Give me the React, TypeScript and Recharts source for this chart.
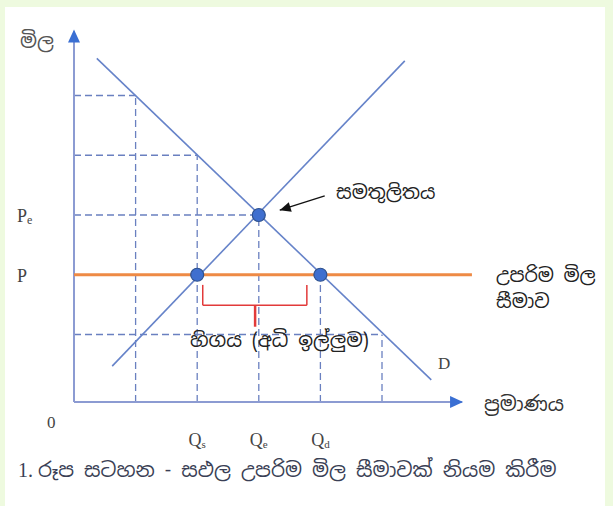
import React from 'react';
import { ComposedChart, Line, Scatter, XAxis, YAxis, ReferenceLine, ReferenceDot } from 'recharts';

// ---- data ----
const gridQuantities = [1, 2, 3, 4, 5];
const gridPrices = [5.13, 4.13, 3.13, 2.13, 1.13];
const demandPoints = [
  { q: 0.37, p: 5.75 },
  { q: 5.8, p: 0.37 },
];
const supplyPoints = [
  { q: 0.62, p: 0.6 },
  { q: 5.37, p: 5.71 },
];
const ceilingPrice = 2.13;
const equilibriumPrice = 3.13;
const ceilingEndQ = 6.46;
const keyPoints = [
  { q: 2, p: 2.13 },
  { q: 3, p: 3.13 },
  { q: 4, p: 2.13 },
];
const quantityTicks = [2, 3, 4];
const quantitySubs = ['s', 'e', 'd'];
const priceTicks = [equilibriumPrice, ceilingPrice];
const priceTickSubs = ['e', ''];
const braceQ = [2.09, 3.78, 2.94];
const braceP = [1.96, 1.62, 1.26];
const arrowFrom = { q: 4.07, p: 3.45 };
const arrowTo = { q: 3.34, p: 3.21 };

const X_MAX = 6.6;
const Y_MAX = 6.2;
const AXIS_X_END = 6.3;

const SINHALA = "'Noto Sans Sinhala', 'Noto Serif Sinhala', 'Iskoola Pota', 'Noto Sans', sans-serif";
const SERIF = "'Liberation Serif', 'DejaVu Serif', serif";

const LINE_BLUE = '#6683c9';
const DASH_BLUE = '#6a80c0';
const AXIS_BLUE = '#8c9bd2';
const ARROW_BLUE = '#3a6fd3';

const UpArrow = (props: any) => {
  const { cx, cy } = props;
  return <polygon points={`${cx},${cy - 2} ${cx - 6},${cy + 11} ${cx + 6},${cy + 11}`} fill={ARROW_BLUE} />;
};
const RightArrow = (props: any) => {
  const { cx, cy } = props;
  return <polygon points={`${cx + 1},${cy} ${cx - 12},${cy - 6} ${cx - 12},${cy + 6}`} fill={ARROW_BLUE} />;
};
const BlackHead = (props: any) => {
  const { cx, cy } = props;
  const ang = Math.atan2(14, -45);
  const L = 11;
  const Wd = 5;
  const bx = cx - L * Math.cos(ang);
  const by = cy - L * Math.sin(ang);
  const nx = -Math.sin(ang) * Wd;
  const ny = Math.cos(ang) * Wd;
  return <polygon points={`${cx},${cy} ${bx + nx},${by + ny} ${bx - nx},${by - ny}`} fill="#111" />;
};
const KeyDot = (props: any) => {
  const { cx, cy } = props;
  return <circle cx={cx} cy={cy} r={6.5} fill="#3f6fcf" stroke="#2f528f" strokeWidth={1.2} />;
};

const makeQLabel = (sub: string) => (props: any) => {
  const { cx, cy } = props;
  return (
    <text x={cx} y={cy + 44} textAnchor="middle" fontFamily={SERIF} fontSize={18} fill="#444">
      Q<tspan fontSize={11} dy={2}>{sub}</tspan>
    </text>
  );
};
const makePLabel = (sub: string) => (props: any) => {
  const { cy } = props;
  return (
    <text x={17} y={cy + 7} textAnchor="start" fontFamily={SERIF} fontSize={18} fill="#444">
      P{sub ? <tspan fontSize={12} dy={2}>{sub}</tspan> : null}
    </text>
  );
};

export default function App() {
  const chartW = 613;
  const chartH = 506;
  const margin = { left: 74, top: 31.55, bottom: 104, right: 613 - (74 + X_MAX * 61.6) };
  return (
    <div style={{ position: 'absolute', left: 0, top: 0, width: 613, height: 506, background: '#eefadf', overflow: 'hidden' }}>
      <div style={{ position: 'absolute', left: 5, top: 7, width: 600, height: 499, background: '#ffffff' }} />
      <div style={{ position: 'absolute', left: 0, top: 0 }}>
        <ComposedChart width={chartW} height={chartH} margin={margin}>
          <XAxis type="number" dataKey="q" domain={[0, X_MAX]} hide allowDataOverflow />
          <YAxis type="number" dataKey="p" domain={[0, Y_MAX]} hide allowDataOverflow />
          {gridQuantities.map((q, i) => (
            <ReferenceLine
              key={'h' + i}
              segment={[{ x: 0, y: gridPrices[i] }, { x: q, y: gridPrices[i] }]}
              stroke={DASH_BLUE}
              strokeWidth={1.3}
              strokeDasharray="7 4"
              ifOverflow="visible"
            />
          ))}
          {gridQuantities.map((q, i) => (
            <ReferenceLine
              key={'v' + i}
              segment={[{ x: q, y: 0 }, { x: q, y: gridPrices[i] }]}
              stroke={DASH_BLUE}
              strokeWidth={1.3}
              strokeDasharray="7 4"
              ifOverflow="visible"
            />
          ))}
          <ReferenceLine segment={[{ x: 0, y: 0 }, { x: 0, y: Y_MAX }]} stroke={AXIS_BLUE} strokeWidth={2} ifOverflow="visible" />
          <ReferenceLine segment={[{ x: 0, y: 0 }, { x: AXIS_X_END, y: 0 }]} stroke={AXIS_BLUE} strokeWidth={2} ifOverflow="visible" />
          <ReferenceDot x={0} y={Y_MAX} r={0} shape={<UpArrow />} ifOverflow="visible" />
          <ReferenceDot x={AXIS_X_END} y={0} r={0} shape={<RightArrow />} ifOverflow="visible" />
          {quantityTicks.map((q, i) => (
            <ReferenceDot key={'qt' + i} x={q} y={0} r={0} shape={makeQLabel(quantitySubs[i])} ifOverflow="visible" />
          ))}
          {priceTicks.map((p, i) => (
            <ReferenceDot key={'pt' + i} x={0} y={p} r={0} shape={makePLabel(priceTickSubs[i])} ifOverflow="visible" />
          ))}
          <Line data={demandPoints} dataKey="p" stroke={LINE_BLUE} strokeWidth={1.6} dot={false} isAnimationActive={false} />
          <Line data={supplyPoints} dataKey="p" stroke={LINE_BLUE} strokeWidth={1.6} dot={false} isAnimationActive={false} />
          <ReferenceLine
            segment={[{ x: 0, y: ceilingPrice }, { x: ceilingEndQ, y: ceilingPrice }]}
            stroke="#ee8a45"
            strokeWidth={3}
            ifOverflow="visible"
          />
          <ReferenceLine segment={[{ x: braceQ[0], y: braceP[0] }, { x: braceQ[0], y: braceP[1] }]} stroke="#e23a3a" strokeWidth={1.5} ifOverflow="visible" />
          <ReferenceLine segment={[{ x: braceQ[0], y: braceP[1] }, { x: braceQ[1], y: braceP[1] }]} stroke="#e23a3a" strokeWidth={1.5} ifOverflow="visible" />
          <ReferenceLine segment={[{ x: braceQ[1], y: braceP[0] }, { x: braceQ[1], y: braceP[1] }]} stroke="#e23a3a" strokeWidth={1.5} ifOverflow="visible" />
          <ReferenceLine segment={[{ x: braceQ[2], y: braceP[1] }, { x: braceQ[2], y: braceP[2] }]} stroke="#e23a3a" strokeWidth={2.5} ifOverflow="visible" />
          <ReferenceLine segment={[arrowFrom, arrowTo].map((a) => ({ x: a.q, y: a.p }))} stroke="#111" strokeWidth={1.3} ifOverflow="visible" />
          <ReferenceDot x={arrowTo.q} y={arrowTo.p} r={0} shape={<BlackHead />} ifOverflow="visible" />
          <Scatter data={keyPoints} dataKey="p" shape={<KeyDot />} isAnimationActive={false} />
        </ComposedChart>
      </div>
      <svg width={613} height={506} style={{ position: 'absolute', left: 0, top: 0, pointerEvents: 'none' }}>
        <text x={20} y={48} fontFamily={SINHALA} fontSize={20} fill="#555">මිල</text>
        <text x={47} y={428} fontFamily={SERIF} fontSize={17} fill="#444">0</text>
        <text x={438} y={369} fontFamily={SERIF} fontSize={17} fill="#444">D</text>
        <text x={336} y={199} fontFamily={SINHALA} fontSize={19} fill="#222">සමතුලිතය</text>
        <text x={496} y={282} fontFamily={SINHALA} fontSize={19} fill="#222">උපරිම මිල</text>
        <text x={496} y={308} fontFamily={SINHALA} fontSize={19} fill="#222">සීමාව</text>
        <text x={190} y={347} fontFamily={SINHALA} fontSize={19.5} fill="#222">හිගය (අධි ඉල්ලුම)</text>
        <text x={484} y={411} fontFamily={SINHALA} fontSize={20} fill="#333">ප්‍රමාණය</text>
        <text x={18} y={477} fontFamily={SINHALA} fontSize={20} fill="#3a3f55">
          <tspan fontFamily={SERIF}>1. </tspan>රූප සටහන - සඵල උපරිම මිල සීමාවක් නියම කිරීම
        </text>
      </svg>
    </div>
  );
}
